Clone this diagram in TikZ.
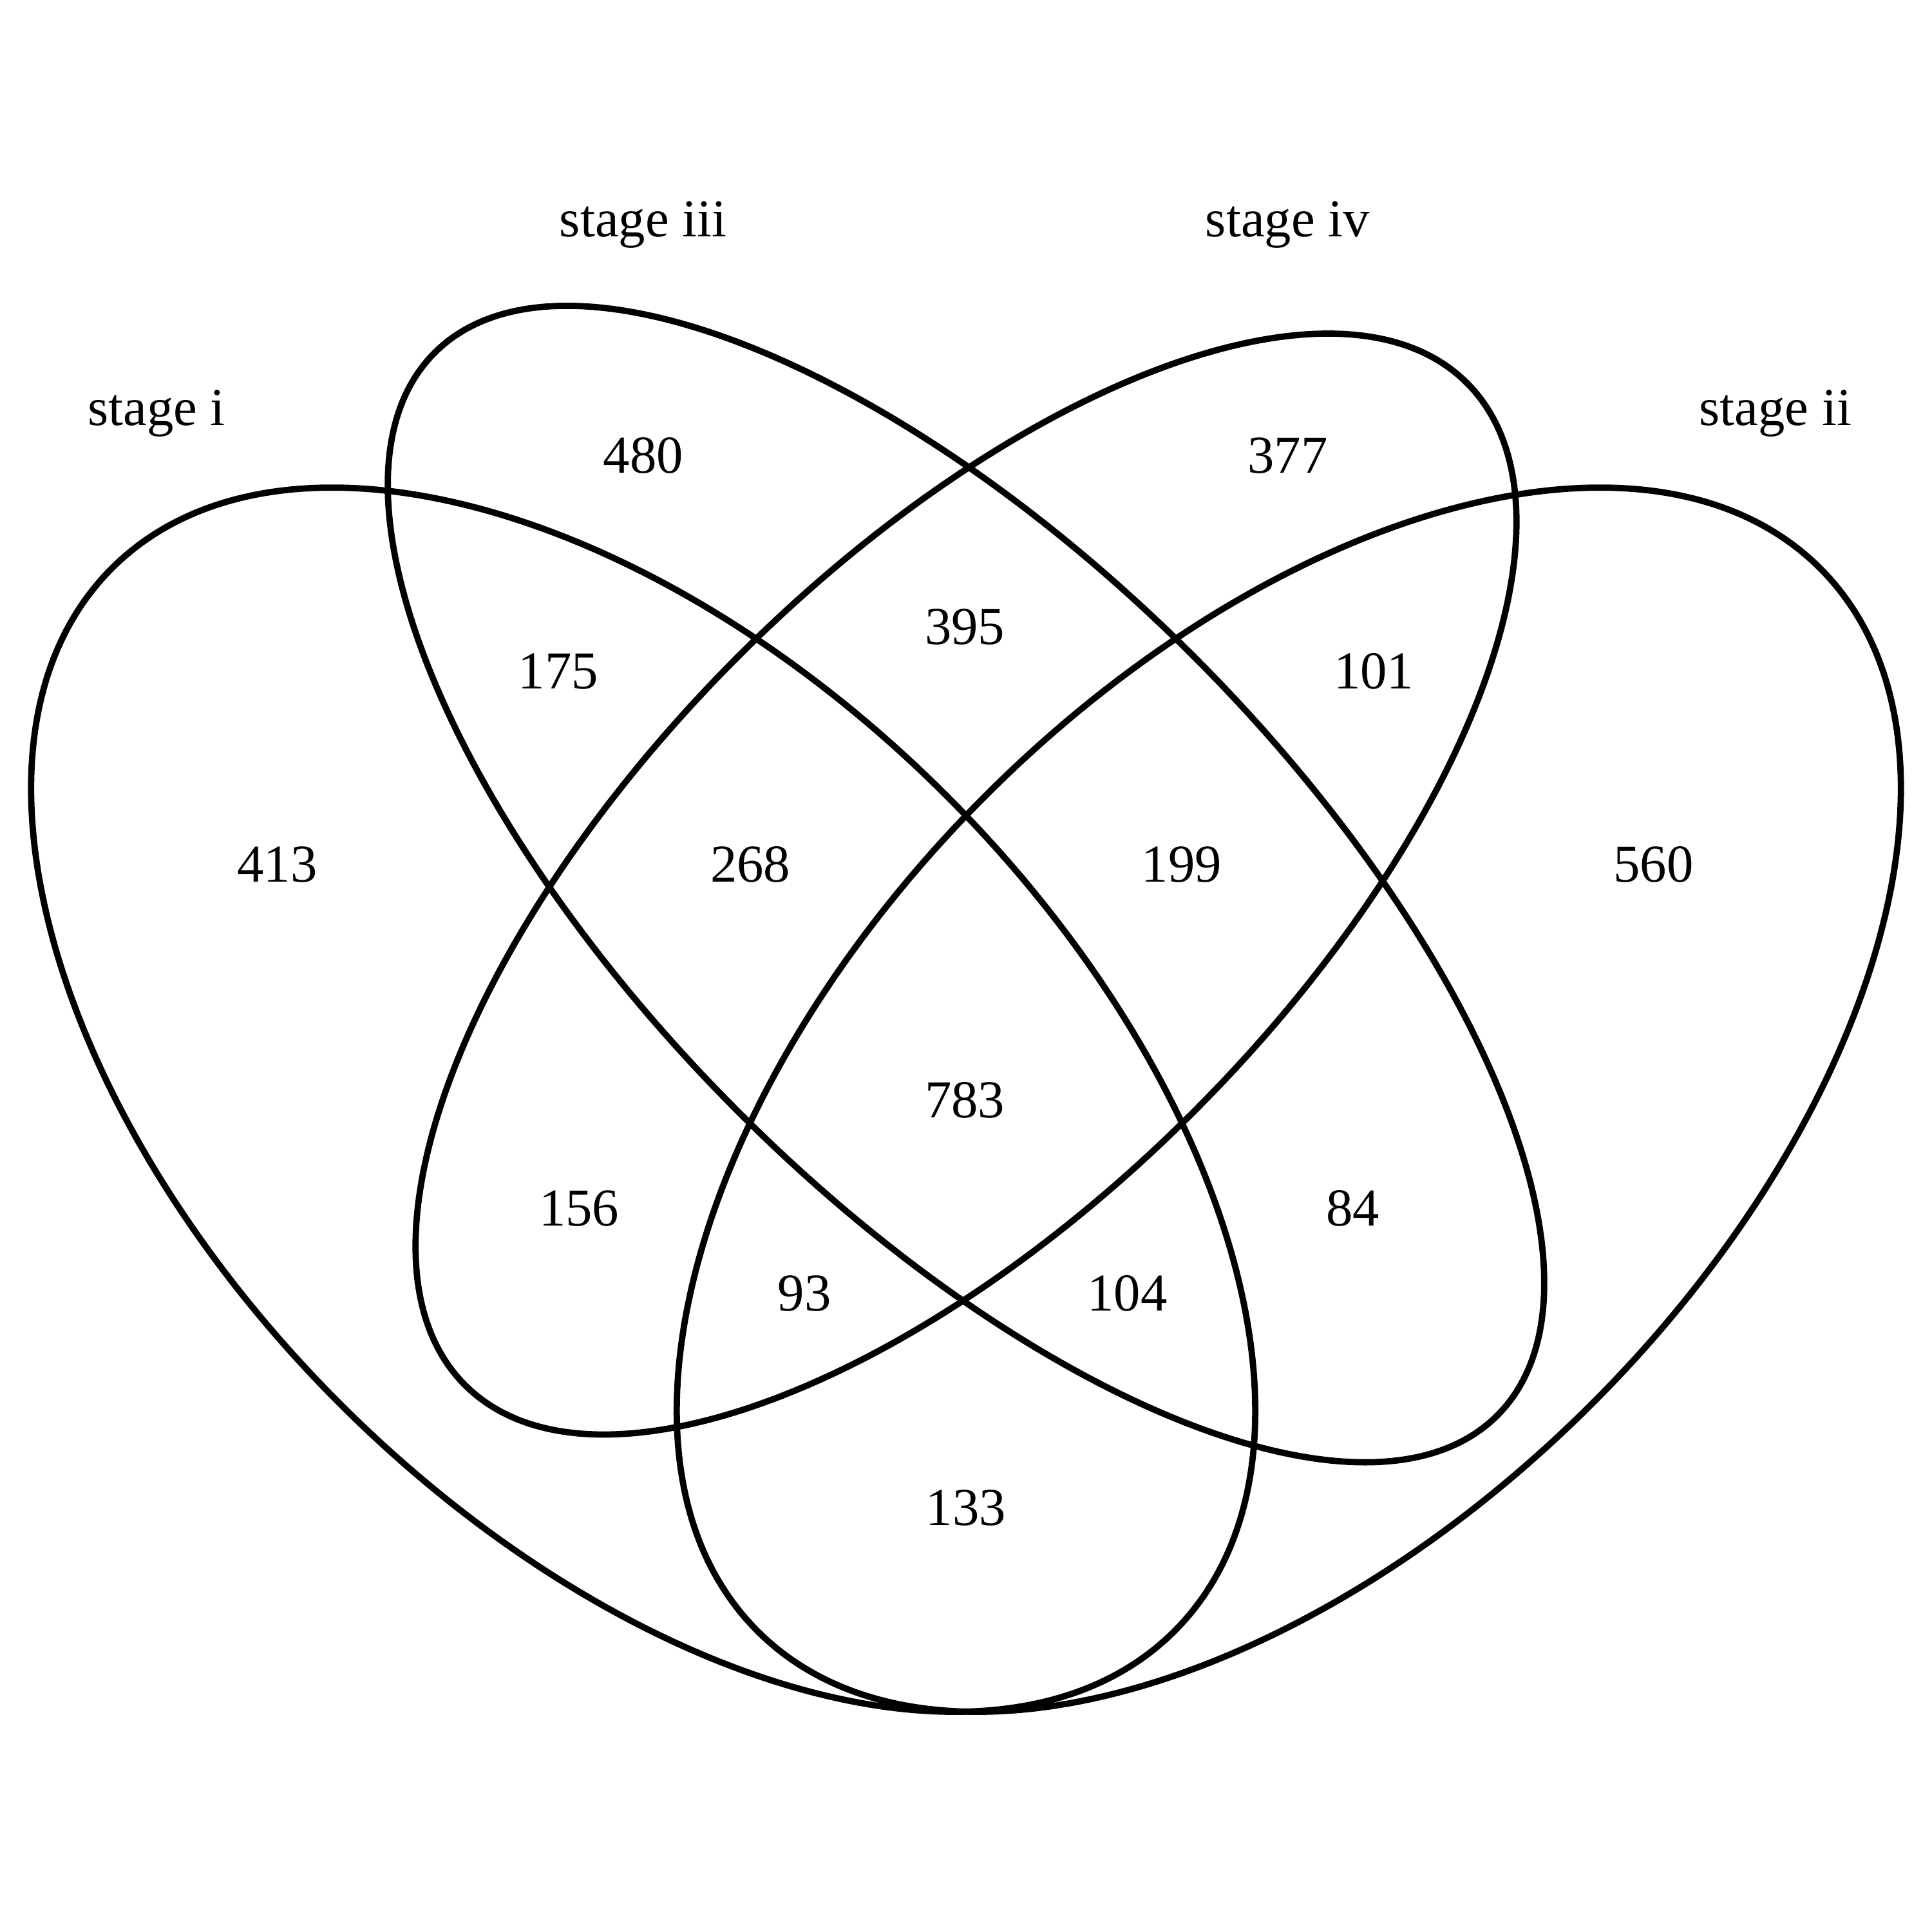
\documentclass[tikz,border=0pt]{standalone}
\usepackage{fontspec}
\setmainfont{Liberation Serif}
\begin{document}
\begin{tikzpicture}[x=0.01cm,y=0.01cm,
  setline/.style={draw=black,line width=1.45pt},
  lbl/.style={inner sep=0pt,anchor=base,font=\fontsize{12.3}{15}\selectfont}]
\path[use as bounding box] (0,0) rectangle (1568,1568);
% ellipses (centres in Y-up coordinates)
\coordinate (c1) at (522,675.5);
\coordinate (c2) at (1046,675.5);
\coordinate (c34) at (784,850.5);
\draw[setline] (c1) ellipse [x radius=6.095cm, y radius=3.483cm, rotate=-45];
\draw[setline] (c2) ellipse [x radius=6.095cm, y radius=3.483cm, rotate=45];
\draw[setline] (c34) ellipse [x radius=6.095cm, y radius=2.612cm, rotate=-45];
\draw[setline] (c34) ellipse [x radius=5.747cm, y radius=2.612cm, rotate=45];
% set names
\node[lbl] (s1) at (127,1223) {stage i};
\node[lbl] (s3) at (522,1376) {stage iii};
\node[lbl] (s4) at (1045,1376) {stage iv};
\node[lbl] (s2) at (1441,1223) {stage ii};
% counts
\node[lbl] (n480) at (522,1184) {480};
\node[lbl] (n377) at (1045,1184) {377};
\node[lbl] (n395) at (783,1045) {395};
\node[lbl] (n175) at (453,1009) {175};
\node[lbl] (n101) at (1115,1009) {101};
\node[lbl] (n413) at (225,852) {413};
\node[lbl] (n268) at (609,852) {268};
\node[lbl] (n199) at (959,852) {199};
\node[lbl] (n560) at (1342,852) {560};
\node[lbl] (n783) at (783,661) {783};
\node[lbl] (n156) at (470,573) {156};
\node[lbl] (n84) at (1098,573) {84};
\node[lbl] (n93) at (653,504) {93};
\node[lbl] (n104) at (915,504) {104};
\node[lbl] (n133) at (784,330) {133};
\end{tikzpicture}
\end{document}
